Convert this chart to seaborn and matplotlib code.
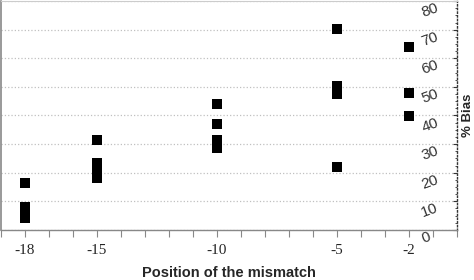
import pandas as pd
import matplotlib
matplotlib.use('Agg')
import matplotlib.pyplot as plt
import seaborn as sns
from matplotlib.ticker import MultipleLocator

# % bias, one list per mismatch position
bias_m18 = [16.3, 8.0, 6.0, 4.0]
bias_m15 = [31.6, 23.4, 21.6, 18.0]
bias_m10 = [44.0, 36.9, 31.3, 30.0, 28.5]
bias_m5 = [70.3, 50.3, 48.8, 47.4, 22.0]
bias_m2 = [64.0, 47.7, 39.8]

positions = [-18, -15, -10, -5, -2]
y_ticks = [0, 10, 20, 30, 40, 50, 60, 70, 80]

# Build a long table for seaborn
rows = []
for pos, vals in zip(positions, [bias_m18, bias_m15, bias_m10, bias_m5, bias_m2]):
    for v in vals:
        rows.append({'position': pos, 'bias': v})
df = pd.DataFrame(rows)

sns.set_style('white')
plt.rcParams['font.family'] = ['Liberation Sans', 'DejaVu Sans']

fig = plt.figure(figsize=(4.74, 2.80), dpi=100)
ax = fig.add_axes([0.002, 0.179, 0.962, 0.817])

sns.scatterplot(data=df, x='position', y='bias', marker='s', s=44,
                color='black', edgecolor='black', linewidth=0, ax=ax, zorder=3)

ax.set_xlim(-19, 0)
ax.set_ylim(0, 80)

# x axis: labelled ticks plus a tick at every position
ax.set_xticks(positions)
ax.set_xticklabels([str(p) for p in positions], family='Liberation Serif', fontsize=11)
ax.xaxis.set_minor_locator(MultipleLocator(1))
ax.tick_params(axis='x', which='both', bottom=True, direction='out', length=5,
               width=0.8, color='#888888', pad=5)

# y axis on the right, labels pushed inside the plot
ax.yaxis.tick_right()
ax.set_yticks(y_ticks)
ax.tick_params(axis='y', which='major', right=True, left=False, direction='in',
               length=3, width=0.8, color='#333333', pad=-27, labelsize=11,
               labelrotation=20, labelcolor='#333333')
for lbl in ax.get_yticklabels():
    lbl.set_va('top')
ax.yaxis.set_minor_locator(MultipleLocator(2.5))
ax.tick_params(axis='y', which='minor', right=True, direction='in', length=1.5,
               width=0.6, color='#333333')

ax.grid(axis='y', linestyle=':', color='#c0c0c0', linewidth=0.9, zorder=0)
ax.grid(axis='x', visible=False)

ax.yaxis.set_label_position('right')
ax.set_ylabel('% Bias', fontsize=9.5, fontweight='bold', labelpad=0)
ax.set_xlabel('Position of the mismatch', fontsize=10.5, fontweight='bold', labelpad=7)

ax.spines['left'].set_color('#888888')
ax.spines['left'].set_linewidth(1.2)
ax.spines['bottom'].set_color('#888888')
ax.spines['bottom'].set_linewidth(1.0)
ax.spines['top'].set_color('#cccccc')
ax.spines['top'].set_linewidth(0.8)
ax.spines['right'].set_color('#333333')
ax.spines['right'].set_linestyle(':')
ax.spines['right'].set_linewidth(1.0)

fig.savefig('out.png', dpi=100)
